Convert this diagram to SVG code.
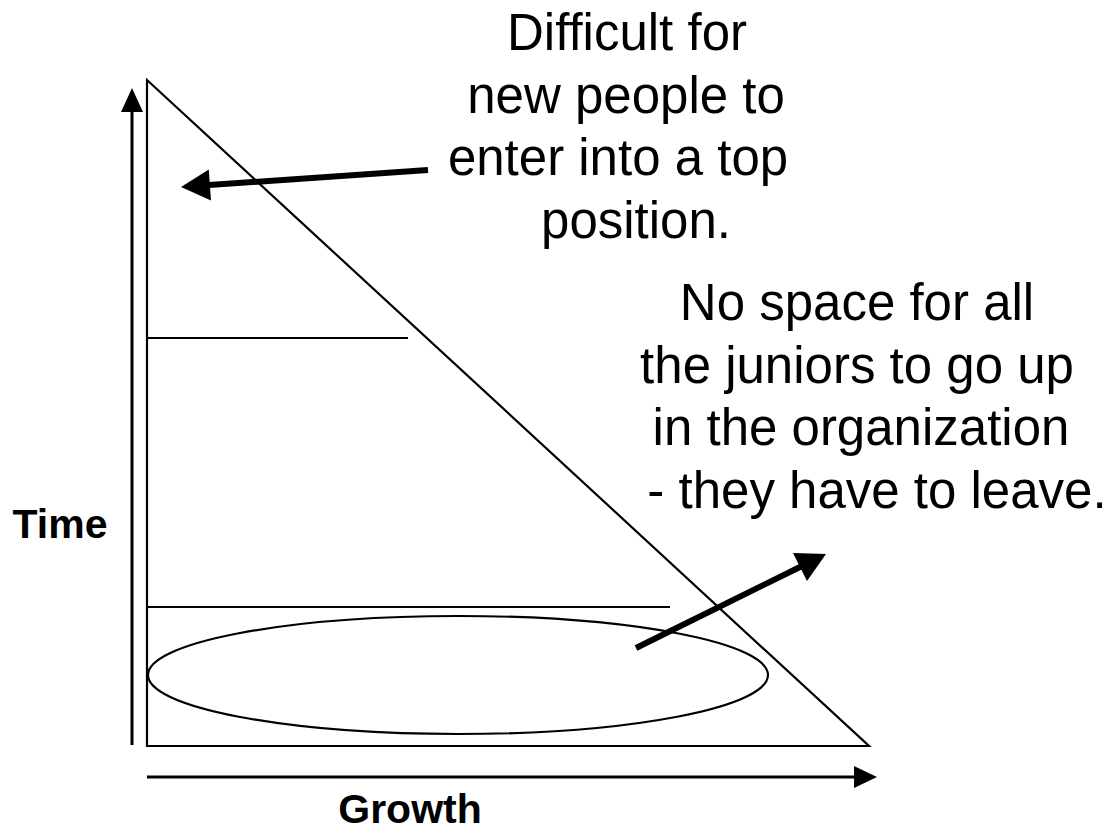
<svg xmlns="http://www.w3.org/2000/svg" width="1118" height="831" viewBox="0 0 1118 831">
<style>
.ln{stroke:#000;stroke-width:2.2;fill:none}
.ax{stroke:#000;stroke-width:3;fill:none}
.big{font-family:"Liberation Sans",Arial,sans-serif;font-size:51px;fill:#000;text-anchor:middle}
.lab{font-family:"Liberation Sans",Arial,sans-serif;font-size:41px;font-weight:bold;fill:#000;text-anchor:middle}
</style>
<rect width="1118" height="831" fill="#fff"/>
<g id="pyramid">
<polygon class="ln" points="147,80 869,746 147,746"/>
<line class="ln" x1="147" y1="338" x2="408" y2="338"/>
<line class="ln" x1="147" y1="607" x2="670" y2="607"/>
</g>
<g id="ellipse">
<ellipse class="ln" cx="458" cy="675" rx="310" ry="59"/>
</g>
<g id="axes">
<line class="ax" x1="132" y1="745" x2="132" y2="110"/>
<polygon points="132,88 121,112 143,112" fill="#000"/>
<line class="ax" x1="147" y1="777" x2="856" y2="777"/>
<polygon points="877,777 854,766 854,788" fill="#000"/>
</g>
<g id="connectors">
<line x1="428" y1="170" x2="209" y2="185" stroke="#000" stroke-width="6"/>
<polygon points="181,187 211,200.5 208.8,169.5" fill="#000"/>
<line x1="636" y1="648" x2="802" y2="566" stroke="#000" stroke-width="6"/>
<polygon points="826,554 807,581 793,553" fill="#000"/>
</g>
<g id="text-top">
<text class="big" x="627" y="50">Difficult for</text>
<text class="big" x="626" y="112.5">new people to</text>
<text class="big" x="618" y="175">enter into a top</text>
<text class="big" x="636" y="237.5">position.</text>
</g>
<g id="text-right">
<text class="big" x="857" y="320">No space for all</text>
<text class="big" x="857" y="383">the juniors to go up</text>
<text class="big" x="861" y="445">in the organization</text>
<text class="big" x="877" y="508">- they have to leave.</text>
</g>
<g id="labels">
<text class="lab" x="60" y="538">Time</text>
<text class="lab" x="410" y="823">Growth</text>
</g>
</svg>
